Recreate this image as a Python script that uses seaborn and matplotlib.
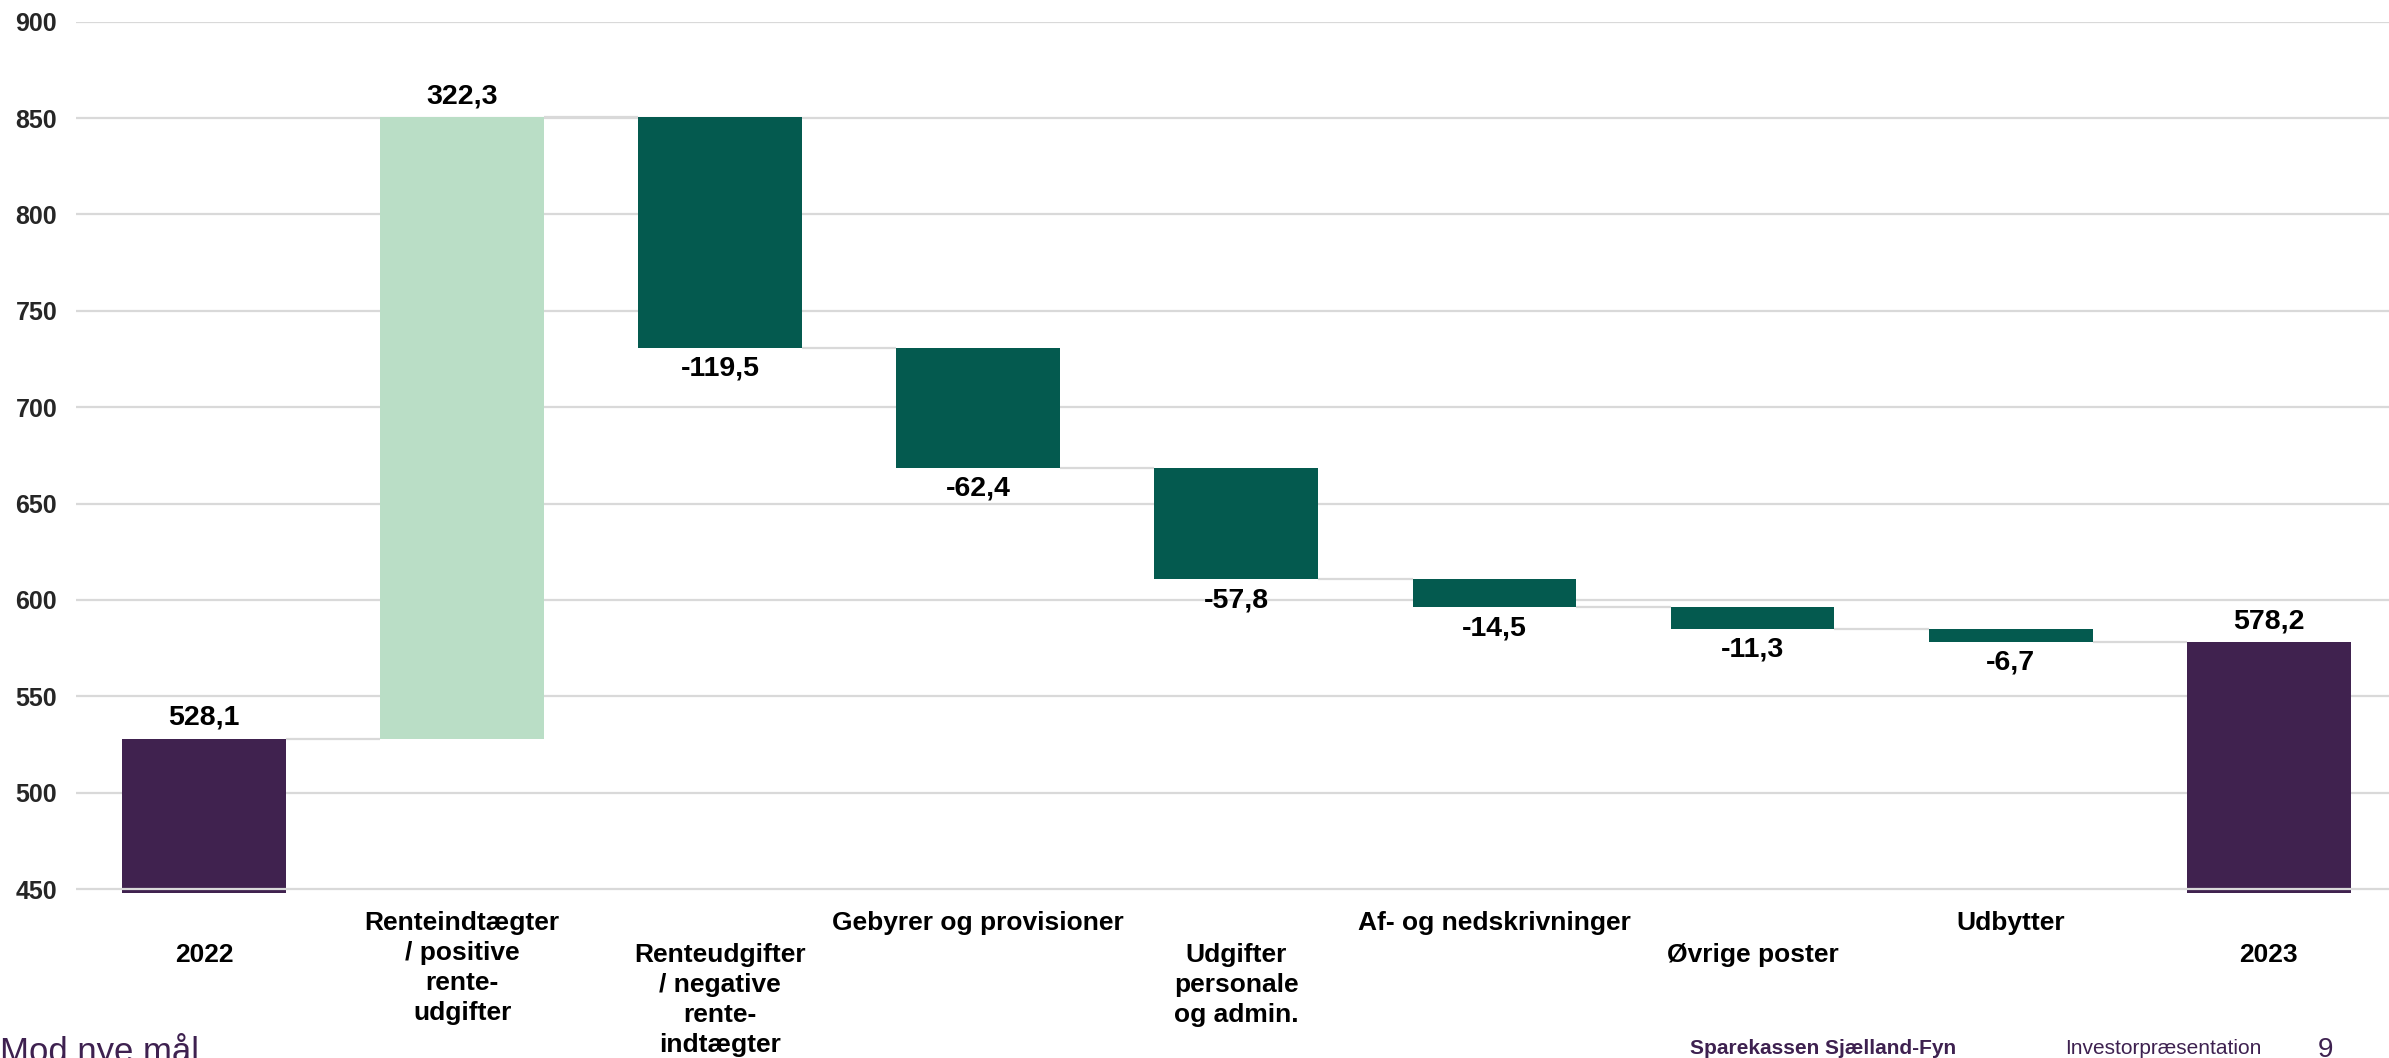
import numpy as np
import pandas as pd
import matplotlib
matplotlib.use("Agg")
import matplotlib.pyplot as plt
import matplotlib.transforms as mtransforms
import seaborn as sns

# ---------------- data ----------------
categories = ["2022",
              "Renteindtægter\n/ positive\nrente-\nudgifter",
              "Renteudgifter\n/ negative\nrente-\nindtægter",
              "Gebyrer og provisioner",
              "Udgifter\npersonale\nog admin.",
              "Af- og nedskrivninger",
              "Øvrige poster",
              "Udbytter",
              "2023"]
start_value = 528.1
changes = [322.3, -119.5, -62.4, -57.8, -14.5, -11.3, -6.7]
end_value = 578.2
yticks = [450, 500, 550, 600, 650, 700, 750, 800, 850, 900]

# ---------------- derived waterfall table ----------------
levels = np.concatenate([[start_value], start_value + np.cumsum(changes)])
bottoms = [0.0] + [min(levels[i], levels[i + 1]) for i in range(len(changes))] + [0.0]
heights = [start_value] + [abs(c) for c in changes] + [end_value]
kinds = ["total"] + ["inc" if c > 0 else "dec" for c in changes] + ["total"]
values = [start_value] + changes + [end_value]
keys = [f"c{i}" for i in range(len(categories))]
df = pd.DataFrame({"key": keys, "height": heights, "bottom": bottoms,
                   "kind": kinds, "value": values})

colors = {"total": "#40224F", "inc": "#BADEC6", "dec": "#045A4F"}
grid_col = "#D9D9D9"
purple = "#3E2150"

sns.set_theme(style="white")
plt.rcParams["font.family"] = ["Liberation Sans", "DejaVu Sans"]

fig = plt.figure(figsize=(23.89, 10.58), dpi=100)
ax = fig.add_axes([0.0318, 0.1564, 0.9682, 0.8231])

bar_w = 0.635
for kind, col in colors.items():
    sub = df[df["kind"] == kind]
    sns.barplot(data=sub, x="key", y="height", order=keys, color=col,
                bottom=sub["bottom"].values, width=bar_w, errorbar=None,
                linewidth=0, saturation=1, ax=ax, zorder=3)

ax.set_xlim(-0.496, 8.466)
ax.set_ylim(448.2, 900)

# gridlines
for yv in yticks:
    ax.axhline(yv, color=grid_col, lw=1.6, zorder=(5 if yv == yticks[0] else 1))

# connectors
conn_levels = list(levels) + [end_value]
for i in range(len(categories) - 1):
    lvl = levels[i] if i < len(levels) else end_value
    ax.plot([i + bar_w / 2, i + 1 - bar_w / 2], [lvl, lvl], color=grid_col,
            lw=1.6, zorder=2, solid_capstyle="butt")

# value labels
for i, row in df.iterrows():
    if row["kind"] == "dec":
        y = row["bottom"]
        off = -15
    else:
        y = row["bottom"] + row["height"]
        off = 15
    txt = f"{row['value']:.1f}".replace(".", ",")
    ax.annotate(txt, (i, y), xytext=(0, off), textcoords="offset points",
                ha="center", va="center", fontsize=20.5, fontweight="bold",
                color="black", zorder=6)

# axes styling
ax.set_yticks(yticks)
ax.set_yticklabels([str(v) for v in yticks], fontsize=18, fontweight="bold")
ax.tick_params(axis="y", length=0, pad=13.5)
ax.set_xticks([])
ax.set_xlabel("")
ax.set_ylabel("")
for s in ax.spines.values():
    s.set_visible(False)
ax.grid(False)

# category labels (staggered)
H = 1058.0
trans = mtransforms.blended_transform_factory(ax.transData, fig.transFigure)
row_y = {0: 955.0, 1: 923.0}
line_step = 30.0
for i, lab in enumerate(categories):
    y0 = row_y[i % 2]
    for k, line in enumerate(lab.split("\n")):
        ax.text(i, 1 - (y0 + k * line_step) / H, line, transform=trans,
                ha="center", va="center", fontsize=19, fontweight="bold",
                color="black", clip_on=False)

# footer
fig.text(0.0, -4 / H, "Mod nye mål", fontsize=25, color=purple,
         ha="left", va="baseline")
fig.text(1690 / 2389, 1 - 1053.5 / H, "Sparekassen Sjælland-Fyn", fontsize=15,
         fontweight="bold", color=purple, ha="left", va="baseline")
fig.text(2065 / 2389, 1 - 1053.5 / H, "Investorpræsentation", fontsize=15,
         color=purple, ha="left", va="baseline")
fig.text(2318 / 2389, 1 - 1057 / H, "9", fontsize=20, color=purple,
         ha="left", va="baseline")

fig.savefig("out.png", dpi=100, facecolor="white")
